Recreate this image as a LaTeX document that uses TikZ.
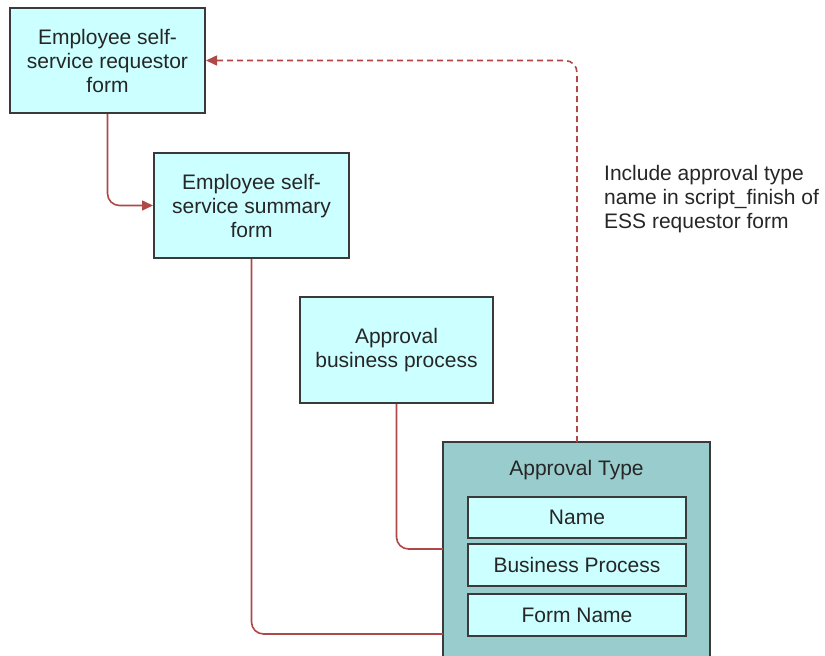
\documentclass[tikz,border=0pt]{standalone}
\usepackage{fontspec}
\setmainfont{Liberation Sans}
\usetikzlibrary{arrows.meta}
\definecolor{boxfill}{HTML}{CCFFFF}
\definecolor{typefill}{HTML}{99CCCC}
\definecolor{conn}{HTML}{B04848}
\definecolor{edge}{HTML}{3A3A3A}
\definecolor{txt}{HTML}{262626}
\begin{document}
\begin{tikzpicture}[x=1pt,y=-1pt,
  every node/.style={text=txt},
  formbox/.style={draw=edge,line width=2pt,fill=boxfill,align=center,font=\fontsize{21}{24}\selectfont,inner sep=0pt},
  fieldbox/.style={draw=edge,line width=1.6pt,fill=boxfill,font=\fontsize{21}{24}\selectfont,inner sep=0pt},
  link/.style={draw=conn,line width=1.6pt,rounded corners=12pt},
  tip/.style={-{Triangle[length=11pt,width=10pt]}}]
\useasboundingbox (0,0) rectangle (825,656);
\node[formbox,minimum width=195pt,minimum height=105pt] (req) at (107.5,60.5) {Employee self-\\service requestor\\form};
\node[formbox,minimum width=195pt,minimum height=105pt] (sum) at (251.5,205.5) {Employee self-\\service summary\\form};
\node[formbox,minimum width=193pt,minimum height=106pt] (abp) at (396.5,350) {Approval\\business process};
\path[draw=edge,line width=2pt,fill=typefill] (443,442) rectangle (710,660);
\node[font=\fontsize{21}{24}\selectfont] (attitle) at (576.5,470) {Approval Type};
\node[fieldbox,minimum width=218pt,minimum height=41pt] (fname) at (577,517.5) {Name};
\node[fieldbox,minimum width=218pt,minimum height=42pt] (fbp) at (577,565) {Business Process};
\node[fieldbox,minimum width=218pt,minimum height=42pt] (fform) at (577,615) {Form Name};
\coordinate (attop) at (577,442);
\coordinate (atleft1) at (443,549);
\coordinate (atleft2) at (443,634);
\node[anchor=north west,align=left,font=\fontsize{21}{24}\selectfont,inner sep=0pt] (note) at (604,165) {Include approval type\\name in script\_finish of\\ESS requestor form};
\draw[link,tip] (req.south) |- (sum.west);
\draw[link] (sum.south) |- (atleft2);
\draw[link] (abp.south) |- (atleft1);
\draw[link,dashed,dash pattern=on 6pt off 4pt,tip] (attop) |- (req.east);
\end{tikzpicture}
\end{document}
